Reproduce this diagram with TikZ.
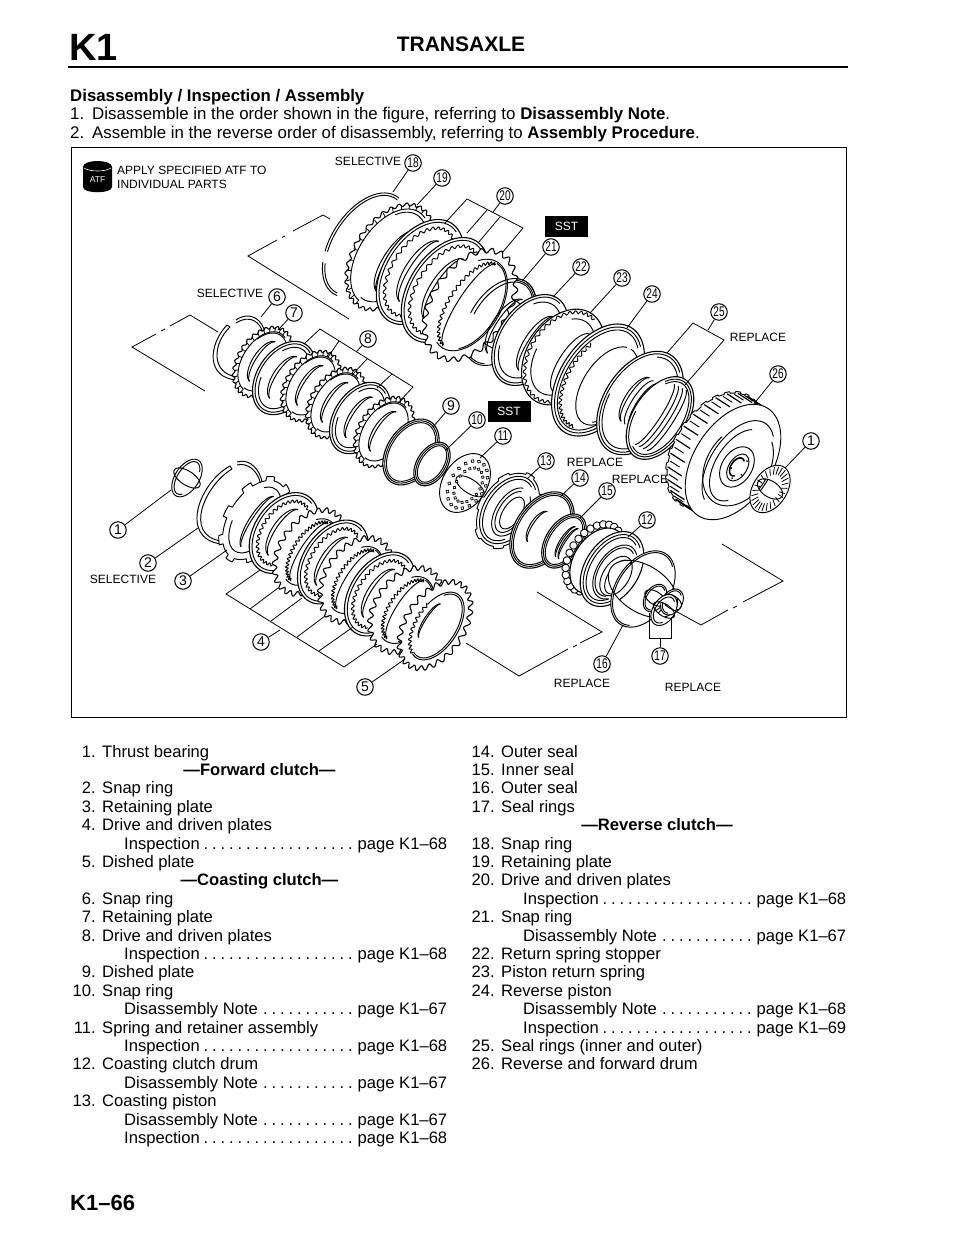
\documentclass[tikz,border=0pt]{standalone}
\usepackage{graphicx}
\usepackage{fontspec}
\setmainfont{Liberation Sans}
\newcounter{tn}
\newcommand\fs[1]{\fontsize{#1}{#1}\selectfont}
\tikzset{
  txt/.style={anchor=base west,inner sep=0pt,font=\fs{16.6}},
  ctxt/.style={anchor=base,inner sep=0pt,font=\fs{16.6}\bfseries},
  lab/.style={inner sep=0pt,font=\fs{12}},
  num/.style={circle,draw,fill=white,line width=1pt,inner sep=0pt,minimum size=16.5pt,font=\fs{14}},
  lead/.style={line width=0.8pt,black},
  part/.style={line width=0.95pt,black,line join=round},
  sstbox/.style={fill=black,text=white,inner sep=0pt,minimum width=43pt,minimum height=21pt,font=\fs{12}},
}
% annulus that leaves its hole open: cx cy a b teeth depth inner-a inner-b inner-offset
\newcommand\Disc[9]{%
 \begin{scope}[shift={(#1,#2)},rotate=-33]
   \draw[part,fill=white,even odd rule]
     plot[domain=0:360,samples=73,variable=\x] ({(#4)*cos(\x)},{(#3)*sin(\x)}) -- cycle
     plot[domain=0:360,samples=73,variable=\x] ({#9+(#7)*cos(\x)},{(#8)*sin(\x)}) -- cycle;
 \end{scope}}
% opaque outline: cx cy a b teeth depth
\newcommand\Solid[6]{%
 \begin{scope}[shift={(#1,#2)},rotate=-33]
   \draw[part,line width=1.1pt,fill=white]
     plot[domain=0:360,samples=361,variable=\x] ({(#4+#6*sin(#5*\x))*cos(\x)},{(#3+#6*sin(#5*\x))*sin(\x)}) -- cycle;
 \end{scope}}
% opaque outline with square lugs: cx cy a b lugs height
\newcommand\Lug[6]{%
 \begin{scope}[shift={(#1,#2)},rotate=-33]
   \draw[part,fill=white]
     plot[domain=0:360,samples=361,variable=\x] ({(#4+#6*(sin(#5*\x)>0.4))*cos(\x)},{(#3+#6*(sin(#5*\x)>0.4))*sin(\x)}) -- cycle;
 \end{scope}}
% arc of a tilted ellipse: cx cy a b t1 t2
\newcommand\Arc[6]{%
 \begin{scope}[shift={(#1,#2)},rotate=-33]
  \draw[part] plot[domain=#5:#6,samples=40,variable=\x] ({(#4)*cos(\x)},{(#3)*sin(\x)});
 \end{scope}}
% wavy arc: cx cy a b t1 t2 teeth
\newcommand\Zig[7]{%
 \begin{scope}[shift={(#1,#2)},rotate=-33]
  \draw[part] plot[domain=#5:#6,samples=160,variable=\x] ({(#4+1.5*sin(#7*\x))*cos(\x)},{(#3+1.5*sin(#7*\x))*sin(\x)});
 \end{scope}}
% row of short radial ticks between the outline and an inner arc: cx cy a b
\newcommand\Ticks[4]{%
 \begin{scope}[shift={(#1,#2)},rotate=-33]
  \draw[part] plot[domain=95:285,samples=40,variable=\x] ({(#4-4.5)*cos(\x)},{(#3-4.5)*sin(\x)});
  \foreach \t in {95,107,...,285}
    \draw[line width=.8pt] ({(#4-4.5)*cos(\t)},{(#3-4.5)*sin(\t)}) -- ({(#4)*cos(\t)},{(#3)*sin(\t)});
 \end{scope}}
% slim double-line sliver inside a hole: cx cy a b
\newcommand\Sliver[4]{%
 \Arc{#1}{#2}{#3}{(#4)}{95}{265}\Arc{#1}{#2}{#3}{(#4)*0.72}{95}{265}}
% large plates
\newcommand\Smooth[4]{%
 \Solid{#1}{#2}{#3}{#4}{0}{0}%
 \Arc{#1}{#2}{#3-2.8}{#4-2.8}{25}{285}%
 \Zig{#1}{#2}{#3-9}{#4-8}{70}{290}{36}%
 \Sliver{#1}{#2}{(#3)*.62}{(#4)*.42}}
\newcommand\Tooth[4]{%
 \Solid{#1}{#2}{#3}{#4}{26}{2.5}%
 \Arc{#1}{#2}{#3-9}{#4-8}{-125}{105}%
 \Arc{#1}{#2}{#3-10.5}{#4-9.5}{-90}{60}%
 \Zig{#1}{#2}{#3-12}{(#4)*.55}{92}{268}{44}%
 \Arc{#1}{#2}{#3-12}{(#4)*.32}{92}{268}}
% small plates of the coasting clutch
\newcommand\Bead[4]{%
 \Solid{#1}{#2}{#3}{#4}{30}{1.3}%
 \Ticks{#1}{#2}{#3}{#4}%
 \Arc{#1}{#2}{#3-6}{#4-5}{-150}{95}%
 \Sliver{#1}{#2}{(#3)*.62}{(#4)*.42}}
\newcommand\Plain[4]{%
 \Solid{#1}{#2}{#3}{#4}{0}{0}%
 \Arc{#1}{#2}{#3-2.5}{#4-2.5}{30}{290}%
 \Arc{#1}{#2}{#3-6}{#4-6}{-140}{160}%
 \Sliver{#1}{#2}{(#3)*.62}{(#4)*.42}}
% thin seal ring, hole open
\newcommand\Ring[4]{%
 \Disc{#1}{#2}{#3}{#4}{0}{0}{#3-3.6}{#4-3.6}{0}%
 \Arc{#1}{#2}{#3-1.8}{#4-1.8}{70}{300}}
% thin ring with nothing seen through it
\newcommand\SRing[4]{%
 \Solid{#1}{#2}{#3}{#4}{0}{0}%
 \Arc{#1}{#2}{#3-1.8}{#4-1.8}{0}{360}%
 \Arc{#1}{#2}{#3-3.6}{#4-3.6}{0}{360}}
\begin{document}
\begin{tikzpicture}[x=1pt,y=-1pt]
\useasboundingbox (0,0) rectangle (960,1242);
\fill[white] (0,0) rectangle (960,1242);
% ---------- heading
\node[anchor=base west,inner sep=0pt,font=\fs{38}\bfseries] (hk) at (69,60) {K1};
\node[anchor=base,inner sep=0pt,font=\fs{21}\bfseries] (ht) at (461,51) {TRANSAXLE};
\draw[line width=2pt] (68,67) -- (848,67);
\node[txt,font=\fs{16.8}\bfseries] (h1) at (70,101) {Disassembly / Inspection / Assembly};
\node[txt,font=\fs{16.85}] (h2) at (70,119) {1.\hspace{8pt}Disassemble in the order shown in the figure, referring to \textbf{Disassembly Note}.};
\node[txt,font=\fs{16.85}] (h3) at (70,138) {2.\hspace{8pt}Assemble in the reverse order of disassembly, referring to \textbf{Assembly Procedure}.};
\draw[line width=1pt] (71,147) rectangle (846,717);
% ---------- ATF mark
\fill (83,167) .. controls (83,159) and (112,159) .. (112,167) -- (112,187) .. controls (112,194) and (83,194) .. (83,187) -- cycle;
\draw[white,line width=.6pt] (84,168) .. controls (90,172) and (105,172) .. (111,168);
\node[inner sep=0pt,text=white,font=\fs{8.5}] (atf) at (97.5,180) {ATF};
\node[lab,anchor=west] (atf1) at (117,170) {APPLY SPECIFIED ATF TO};
\node[lab,anchor=west] (atf2) at (117,184) {INDIVIDUAL PARTS};
% ---------- reverse clutch group, back to front
\Arc{365}{245}{58}{34}{83}{140}
\Arc{365}{245}{55.5}{31.5}{85}{138}
\Arc{365}{245}{58}{34}{152}{275}
\Arc{365}{245}{55.5}{31.5}{152}{275}
\Solid{390}{257}{58}{36}{34}{1.6}
\Ticks{390}{257}{58}{36}
\Arc{390}{257}{50}{29}{-130}{95}
\Sliver{397}{262}{36}{14}
\Smooth{420}{272}{58}{36}
\Smooth{445}{290}{58}{36}
\Ring{500}{322}{48}{30}
\Tooth{470}{305}{60}{38}
\Arc{500}{322}{48}{30}{170}{300}
\Arc{500}{322}{44.5}{26.5}{170}{300}
\Sliver{506}{327}{32}{14}
\Solid{530}{340}{50}{32}{0}{0}
\Arc{530}{340}{47.5}{29.5}{30}{280}
\Arc{530}{340}{42}{26}{-130}{150}
\Arc{537}{344}{32}{13}{95}{265}
\Arc{537}{344}{32}{9}{95}{265}
\Arc{541}{346}{32}{7}{95}{265}
\Solid{563}{357}{52}{36}{0}{0}
\Zig{563}{357}{49}{33}{40}{280}{40}
\Arc{563}{357}{42}{27}{-120}{170}
\Arc{572}{363}{34}{13}{95}{265}
\Solid{598}{380}{62}{38}{0}{0}
\Arc{598}{380}{59}{35}{35}{300}
\Arc{598}{380}{56}{32}{35}{300}
\Zig{598}{380}{53}{29}{80}{210}{50}
\Arc{607}{386}{44}{24}{-90}{260}
\Arc{607}{386}{41}{21}{-30}{70}
\Solid{640}{403}{57}{36}{0}{0}
\Arc{640}{403}{54.5}{33.5}{30}{300}
\Arc{640}{403}{51}{31}{-110}{170}
\Arc{636}{400}{26}{11}{95}{265}
\Arc{636}{400}{26}{8}{95}{265}
\Arc{640}{403}{26}{8}{95}{265}
\Arc{644}{406}{26}{8}{95}{265}
\Solid{660}{418}{46}{27}{0}{0}
\Arc{660}{418}{43.5}{24.5}{-130}{170}
\Arc{660}{418}{41}{22}{-130}{110}
\Arc{654}{414}{36}{7}{-85}{85}
\Arc{658}{416}{36}{7}{-85}{85}
\Arc{662}{418}{36}{7}{-85}{85}
\Arc{666}{420}{36}{7}{-85}{85}
% ---------- drum
\begin{scope}[shift={(733,462)},rotate=-33]
 \draw[part,fill=white] plot[domain=0:360,samples=361,variable=\x] ({-22+(39+1.6*(sin(26*\x)>0))*cos(\x)},{(63+1.6*(sin(26*\x)>0))*sin(\x)}) -- cycle;
 \foreach \t in {85,99,...,281} {
   \draw[part,line width=1.2pt] ({-22+39*cos(\t)},{63*sin(\t)}) -- ({-5+39*cos(\t)},{63*sin(\t)});
   \draw[part] ({-20+39*cos(\t+7)},{63*sin(\t+7)}) -- ({-9+39*cos(\t+7)},{63*sin(\t+7)});
 }
 \draw[part,fill=white] plot[domain=0:360,samples=73,variable=\x] ({39*cos(\x)},{64*sin(\x)}) -- cycle;
 \draw[part] plot[domain=110:300,samples=40,variable=\x] ({6+28*cos(\x)},{50*sin(\x)});
 \draw[part] plot[domain=60:250,samples=40,variable=\x] ({6+22*cos(\x)},{40*sin(\x)});
 \draw[part] plot[domain=-60:200,samples=40,variable=\x] ({6+31*cos(\x)},{44*sin(\x)});
 \draw[part] (6,2) ellipse [x radius=15pt,y radius=22pt];
 \draw[part] (7,2) ellipse [x radius=9pt,y radius=15pt];
 \draw[part,line width=1.6pt] plot[domain=60:300,samples=30,variable=\x] ({6+6*cos(\x)},{2+10*sin(\x)});
 \foreach \t in {20,90,160,230,300} \fill ({8+6.5*cos(\t)},{2+12*sin(\t)}) circle (1pt);
\end{scope}
% thrust bearing right
\Disc{770}{489}{26}{17}{0}{0}{14}{8}{0}
\begin{scope}[shift={(770,489)},rotate=-33]
 \foreach \t in {0,14,...,350} \draw[line width=.8pt] ({9.5*cos(\t)},{16*sin(\t)}) -- ({15.5*cos(\t)},{24.5*sin(\t)});
\end{scope}
% ---------- coasting clutch group
\draw[part] (230,327) .. controls (213,343) and (210,373) .. (237,377);
\draw[part] (227,325) .. controls (208,345) and (206,378) .. (237,380);
\draw[part] (227,325) -- (230,327);
\draw[part] (236,320) .. controls (250,310) and (263,320) .. (265,333);
\draw[part] (236,323) .. controls (250,314) and (260,322) .. (263,333);
\Bead{263}{362}{38}{25}
\Plain{284}{378}{40}{27}
\Bead{311}{386}{38}{25}
\Bead{336}{403}{38}{25}
\Plain{360}{418}{39}{26}
\Bead{384}{432}{38}{25}
\SRing{411}{452}{36}{24}
\SRing{432}{464}{24}{15}
\Disc{465}{483}{32}{22}{0}{0}{16}{7}{6}
\begin{scope}[shift={(465,483)},rotate=-33]
 \foreach \t in {0,20,...,340} {
   \draw[line width=.7pt,fill=white] ({3+17*cos(\t)},{26*sin(\t)}) circle (1.7pt);
   \draw[line width=.7pt,fill=white] ({4+12*cos(\t+10)},{19*sin(\t+10)}) circle (1.5pt);
 }
\end{scope}
\Lug{508}{510}{40}{27}{7}{2}
\Arc{508}{510}{37}{24}{40}{300}
\Arc{508}{510}{34}{21}{50}{290}
\Arc{511}{512}{27}{15}{-60}{260}
\Arc{511}{512}{23}{12}{-40}{260}
\Arc{512}{513}{18}{9}{0}{360}
\SRing{542}{530}{42}{27}
\Sliver{538}{527}{18}{8}
\SRing{564}{541}{30}{18}
\Sliver{566}{542}{18}{6}
\Sliver{569}{544}{18}{6}
% coasting clutch drum
\begin{scope}[shift={(594,558)},rotate=-33]
 \foreach \t in {75,88,...,295}
   \draw[line width=.9pt,fill=white] ({24*cos(\t)},{37*sin(\t)}) circle (3.8pt);
\end{scope}
\Solid{598}{561}{36}{24}{0}{0}
\Solid{612}{569}{41}{27}{0}{0}
\Arc{612}{569}{38}{24}{40}{300}
\Arc{612}{569}{35}{21}{50}{290}
\Arc{615}{572}{30}{18}{60}{300}
\Arc{615}{572}{27}{16}{70}{290}
\Arc{616}{576}{22}{13}{0}{360}
\Arc{618}{577}{19}{10}{60}{290}
\Ring{643}{589}{42}{27}
% seal rings
\Ring{655}{598}{15}{10}
\Ring{672}{602}{14}{10}
\Disc{664}{610}{17}{11}{0}{0}{12}{6}{0}
\Arc{664}{610}{14.5}{8.5}{50}{300}
% ---------- forward clutch group
\Disc{187}{478}{21}{12}{0}{0}{15}{7}{0}
\Arc{187}{478}{18.5}{9.5}{60}{320}
\draw[part] (232,469) .. controls (205,485) and (183,535) .. (221,541);
\draw[part] (230,466) .. controls (200,482) and (178,538) .. (221,544);
\draw[part] (230,466) -- (232,469);
\draw[part] (237,462) .. controls (250,458) and (260,470) .. (262,482);
\draw[part] (237,465) .. controls (248,462) and (258,472) .. (260,482);
\Lug{255}{520}{44}{26}{9}{4}
\Arc{255}{520}{37}{20}{-120}{160}
\Sliver{258}{522}{30}{9}
\Smooth{284}{533}{44}{30}
\Tooth{310}{552}{46}{30}
\Smooth{333}{562}{46}{30}
\Tooth{356}{580}{46}{31}
\Smooth{380}{594}{46}{30}
\Tooth{406}{610}{46}{31}
\Solid{435}{625}{48}{29}{26}{2.5}
\Arc{437}{626}{38}{21}{-125}{105}
\Arc{437}{626}{36}{19}{-125}{105}
\Zig{437}{626}{38}{21}{105}{200}{40}
\Arc{437}{626}{38}{21}{200}{235}
\Sliver{430}{621}{20}{6}
% ---------- SST
\node[sstbox] (sa) at (566.5,226.5) {SST};
\node[sstbox] (sb) at (509,411) {SST};
% ---------- phantom brackets
\draw[lead] (330,219) -- (323,215) -- (293,231); \draw[lead] (285,236) -- (282,237.5);
\draw[lead] (277,240) -- (248,256) -- (349,319);
\draw[lead] (218,332) -- (190,315) -- (170,326); \draw[lead] (165,329) -- (161,331);
\draw[lead] (156,334) -- (132,347) -- (205,391);
\draw[lead] (537,592) -- (602,632) -- (580,643); \draw[lead] (577,645) -- (573,647);
\draw[lead] (568,649) -- (519,676) -- (466,643);
\draw[lead] (722,544) -- (783,581) -- (743,602); \draw[lead] (737,606) -- (733,608);
\draw[lead] (728,610) -- (701,625) -- (670,608);
% ---------- circled numbers
\node[num] (n1r) at (811,441) {1};
\node[num] (n1l) at (118,530) {1};
\node[num] (n2) at (148,563) {2};
\node[num] (n3) at (183,581) {3};
\node[num] (n4) at (261,642) {4};
\node[num] (n5) at (365,687) {5};
\node[num] (n6) at (277,297) {6};
\node[num] (n7) at (294,313) {7};
\node[num] (n8) at (368,339) {8};
\node[num] (n9) at (451,406) {9};
\newcommand\nn[1]{\scalebox{.72}[1]{#1}}
\node[num] (n10) at (477,420) {\nn{10}};
\node[num] (n11) at (503,436) {\nn{11}};
\node[num] (n12) at (647,520) {\nn{12}};
\node[num] (n13) at (546,461) {\nn{13}};
\node[num] (n14) at (580,478) {\nn{14}};
\node[num] (n15) at (607,491) {\nn{15}};
\node[num] (n16) at (602,664) {\nn{16}};
\node[num] (n17) at (660,656) {\nn{17}};
\node[num] (n18) at (413,163) {\nn{18}};
\node[num] (n19) at (442,178) {\nn{19}};
\node[num] (n20) at (505,196) {\nn{20}};
\node[num] (n21) at (551,247) {\nn{21}};
\node[num] (n22) at (581,267) {\nn{22}};
\node[num] (n23) at (622,278) {\nn{23}};
\node[num] (n24) at (652,294) {\nn{24}};
\node[num] (n25) at (719,312) {\nn{25}};
\node[num] (n26) at (778,374) {\nn{26}};
% ---------- leaders
\draw[lead] (n18) -- (393,192) coordinate (e18);
\draw[lead] (n19) -- (417,205) coordinate (e19);
\draw[lead] (n20) -- (493,212) coordinate (e20);
\draw[lead] (445,223) -- (467,199) -- (523,228) -- (502,253);
\draw[lead] (487,210) -- (467,233);
\draw[lead] (500,217) -- (478,243);
\draw[lead] (n21) -- (523,280) coordinate (e21);
\draw[lead] (n22) -- (553,297) coordinate (e22);
\draw[lead] (n23) -- (590,313) coordinate (e23);
\draw[lead] (n24) -- (627,328) coordinate (e24);
\draw[lead] (n25) -- (708,330) coordinate (e25);
\draw[lead] (667,353) -- (693,323) -- (724,340) -- (685,385);
\draw[lead] (n26) -- (753,405) coordinate (e26);
\draw[lead] (n6) -- (261,317) coordinate (e6);
\draw[lead] (n7) -- (278,330) coordinate (e7);
\draw[lead] (n8) -- (357,351) coordinate (e8);
\draw[lead] (304,344) -- (320,329) -- (413,387) -- (398,403);
\draw[lead] (339,341) -- (328,357);
\draw[lead] (367,359) -- (352,375);
\draw[lead] (392,374) -- (377,388);
\draw[lead] (n9) -- (433,427) coordinate (e9);
\draw[lead] (n10) -- (446,450) coordinate (e10);
\draw[lead] (n11) -- (480,458) coordinate (e11);
\draw[lead] (n13) -- (528,478) coordinate (e13);
\draw[lead] (n14) -- (560,497) coordinate (e14);
\draw[lead] (n15) -- (580,518) coordinate (e15);
\draw[lead] (n12) -- (628,537) coordinate (e12);
\draw[lead] (n16) -- (623,625) coordinate (e16);
\draw[lead] (n17) -- (660,638) coordinate (e17);
\draw[lead] (649,613) -- (649,638) -- (671,638) -- (671,617);
\draw[lead] (n1r) -- (785,468) coordinate (e1r);
\draw[lead] (n1l) -- (171,490) coordinate (e1l);
\draw[lead] (n2) -- (198,528) coordinate (e2);
\draw[lead] (n3) -- (227,550) coordinate (e3);
\draw[lead] (n4) -- (280,630) coordinate (e4);
\draw[lead] (n5) -- (405,659) coordinate (e5);
\draw[lead] (260,570) -- (226,594) -- (344,667) -- (377,644);
\draw[lead] (250,609) -- (278,588);
\draw[lead] (271,621) -- (302,598);
\draw[lead] (297,637) -- (325,616);
\draw[lead] (319,651) -- (353,627);
% ---------- labels
\node[lab] (r1) at (758,337) {REPLACE};
\node[lab] (r2) at (595,462) {REPLACE};
\node[lab] (r3) at (640,479) {REPLACE};
\node[lab] (r4) at (582,683) {REPLACE};
\node[lab] (r5) at (693,687) {REPLACE};
\node[lab] (s1) at (368,161) {SELECTIVE};
\node[lab] (s2) at (230,293) {SELECTIVE};
\node[lab] (s3) at (123,579) {SELECTIVE};
% ---------- parts list
\newcommand\Item[4]{% x-number-right, row, number, text
 \pgfmathsetmacro\yy{757+18.4*#2}\pgfmathsetmacro\xt{#1+6}
 \stepcounter{tn}\node[txt,anchor=base east] (a\thetn) at (#1,\yy) {#3};
 \node[txt] (b\thetn) at (\xt,\yy) {#4};}
\newcommand\Pg[5]{% x, row, left, dots, right
 \pgfmathsetmacro\yy{757+18.4*#2}\pgfmathsetmacro\xt{#1+28}
 \stepcounter{tn}\node[txt] (b\thetn) at (\xt,\yy) {\hbox to 323pt{#3\hfill\hbox to #4pt{\leaders\hbox to 8.5pt{\hss.\hss}\hfill}\kern3pt #5}};}
\newcommand\Head[3]{%
 \pgfmathsetmacro\yy{757+18.4*#2}
 \stepcounter{tn}\node[ctxt] (b\thetn) at (#1,\yy) {—#3—};}
\Item{96}{0}{1.}{Thrust bearing}
\Head{259.5}{1}{Forward clutch}
\Item{96}{2}{2.}{Snap ring}
\Item{96}{3}{3.}{Retaining plate}
\Item{96}{4}{4.}{Drive and driven plates}
\Pg{96}{5}{Inspection}{153}{page K1–68}
\Item{96}{6}{5.}{Dished plate}
\Head{259.5}{7}{Coasting clutch}
\Item{96}{8}{6.}{Snap ring}
\Item{96}{9}{7.}{Retaining plate}
\Item{96}{10}{8.}{Drive and driven plates}
\Pg{96}{11}{Inspection}{153}{page K1–68}
\Item{96}{12}{9.}{Dished plate}
\Item{96}{13}{10.}{Snap ring}
\Pg{96}{14}{Disassembly Note}{93.5}{page K1–67}
\Item{96}{15}{11.}{Spring and retainer assembly}
\Pg{96}{16}{Inspection}{153}{page K1–68}
\Item{96}{17}{12.}{Coasting clutch drum}
\Pg{96}{18}{Disassembly Note}{93.5}{page K1–67}
\Item{96}{19}{13.}{Coasting piston}
\Pg{96}{20}{Disassembly Note}{93.5}{page K1–67}
\Pg{96}{21}{Inspection}{153}{page K1–68}
\Item{495}{0}{14.}{Outer seal}
\Item{495}{1}{15.}{Inner seal}
\Item{495}{2}{16.}{Outer seal}
\Item{495}{3}{17.}{Seal rings}
\Head{657}{4}{Reverse clutch}
\Item{495}{5}{18.}{Snap ring}
\Item{495}{6}{19.}{Retaining plate}
\Item{495}{7}{20.}{Drive and driven plates}
\Pg{495}{8}{Inspection}{153}{page K1–68}
\Item{495}{9}{21.}{Snap ring}
\Pg{495}{10}{Disassembly Note}{93.5}{page K1–67}
\Item{495}{11}{22.}{Return spring stopper}
\Item{495}{12}{23.}{Piston return spring}
\Item{495}{13}{24.}{Reverse piston}
\Pg{495}{14}{Disassembly Note}{93.5}{page K1–68}
\Pg{495}{15}{Inspection}{153}{page K1–69}
\Item{495}{16}{25.}{Seal rings (inner and outer)}
\Item{495}{17}{26.}{Reverse and forward drum}
\node[anchor=base west,inner sep=0pt,font=\fs{22}\bfseries] (foot) at (70,1210) {K1–66};
\end{tikzpicture}
\end{document}
